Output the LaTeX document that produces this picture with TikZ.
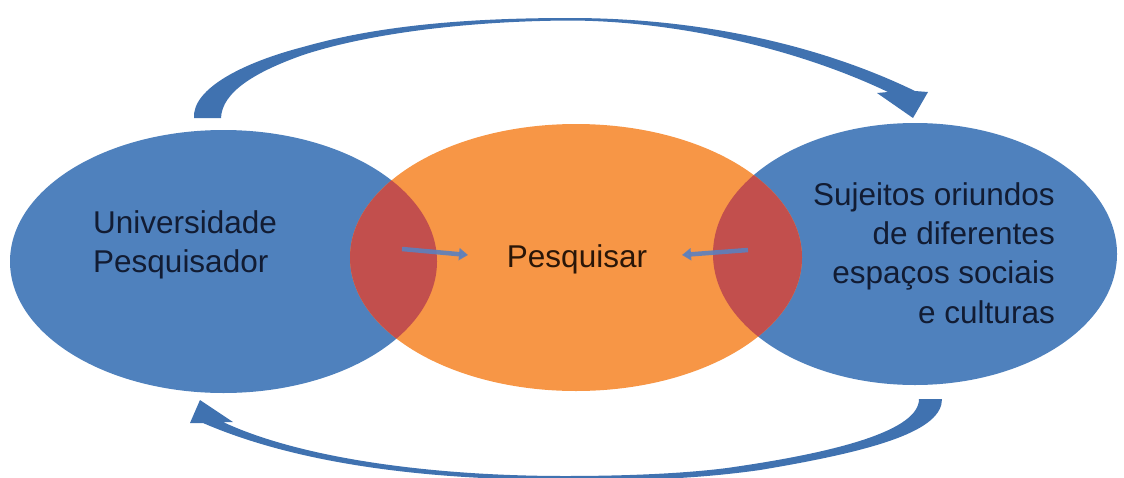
\documentclass[tikz,border=0pt]{standalone}
\usepackage{fontspec}
\setmainfont{Liberation Sans}
\usetikzlibrary{shapes.geometric,arrows.meta}
\definecolor{ublue}{HTML}{4F81BD}
\definecolor{uorange}{HTML}{F79646}
\definecolor{ured}{HTML}{C24F4D}
\definecolor{arcblue}{HTML}{4072B0}
\definecolor{txtblue}{HTML}{121C33}
\definecolor{txtdark}{HTML}{2A1608}
\definecolor{smallarr}{HTML}{5B80BE}
\begin{document}
\begin{tikzpicture}[x=1pt,y=-1pt,
  oval/.style={ellipse, inner sep=0pt, outer sep=0pt, draw=none},
  lbl/.style={font=\fontsize{31.5}{39}\selectfont, inner sep=0pt},
  bigarrow/.style={fill=arcblue, draw=none},
  smallarrow/.style={draw=smallarr, line width=4.5pt, -{Triangle[length=9pt,width=12pt]}, opacity=0.9}]
\useasboundingbox (0,0) rectangle (1124,477);
\clip (0,0) rectangle (1124,477);
% main ellipses
\node[oval, fill=ublue, minimum width=427pt, minimum height=263pt] (uni) at (223.5,261.5) {};
\node[oval, fill=ublue, minimum width=404pt, minimum height=262pt] (suj) at (915,254) {};
\node[oval, fill=uorange, minimum width=452pt, minimum height=267pt] (pes) at (576,257.5) {};
% overlaps
\begin{scope}
  \clip (uni.center) ellipse [x radius=213.5pt, y radius=131.5pt];
  \fill[ured] (pes.center) ellipse [x radius=226pt, y radius=133.5pt];
\end{scope}
\begin{scope}
  \clip (suj.center) ellipse [x radius=202pt, y radius=131pt];
  \fill[ured] (pes.center) ellipse [x radius=226pt, y radius=133.5pt];
\end{scope}
% texts
\node[lbl, anchor=base west, text=txtblue] (uniA) at (93,233) {Universidade};
\node[lbl, anchor=base west, text=txtblue] (uniB) at (93,272) {Pesquisador};
\node[lbl, anchor=base, text=txtdark] (pesT) at (577,267) {Pesquisar};
\node[lbl, anchor=base east, text=txtblue] (sujA) at (1055,205) {Sujeitos oriundos};
\node[lbl, anchor=base east, text=txtblue] (sujB) at (1055,244) {de diferentes};
\node[lbl, anchor=base east, text=txtblue] (sujC) at (1055,283) {espaços sociais};
\node[lbl, anchor=base east, text=txtblue] (sujD) at (1055,323) {e culturas};
% small arrows
\coordinate (la1) at (402,249);
\coordinate (la2) at (468,255);
\coordinate (ra1) at (748,250);
\coordinate (ra2) at (682,255);
\draw[smallarrow] (la1) -- (la2);
\draw[smallarrow] (ra1) -- (ra2);
% top curved arrow
\fill[bigarrow] (194,118) .. controls (192,88) and (245,62) .. (303,47)
  .. controls (380,25) and (470,18) .. (570,18)
  .. controls (700,18) and (820,45) .. (915,91)
  -- (928,92) -- (913,118) -- (877,93) -- (888,92)
  .. controls (800,50) and (680,21) .. (570,20.5)
  .. controls (470,21) and (370,33) .. (303,55)
  .. controls (255,72) and (222,92) .. (221,118) -- cycle;
% bottom curved arrow
\fill[bigarrow] (942,399) .. controls (942,430) and (880,450) .. (760,470)
  .. controls (690,480) and (620,481) .. (565,480)
  .. controls (430,480) and (300,465) .. (203,423)
  -- (190,423) -- (200,400) -- (233,422) -- (223,422)
  .. controls (300,458) and (430,476) .. (565,476)
  .. controls (620,476) and (680,474) .. (727,468)
  .. controls (840,452) and (919,430) .. (919,399) -- cycle;
\end{tikzpicture}
\end{document}
